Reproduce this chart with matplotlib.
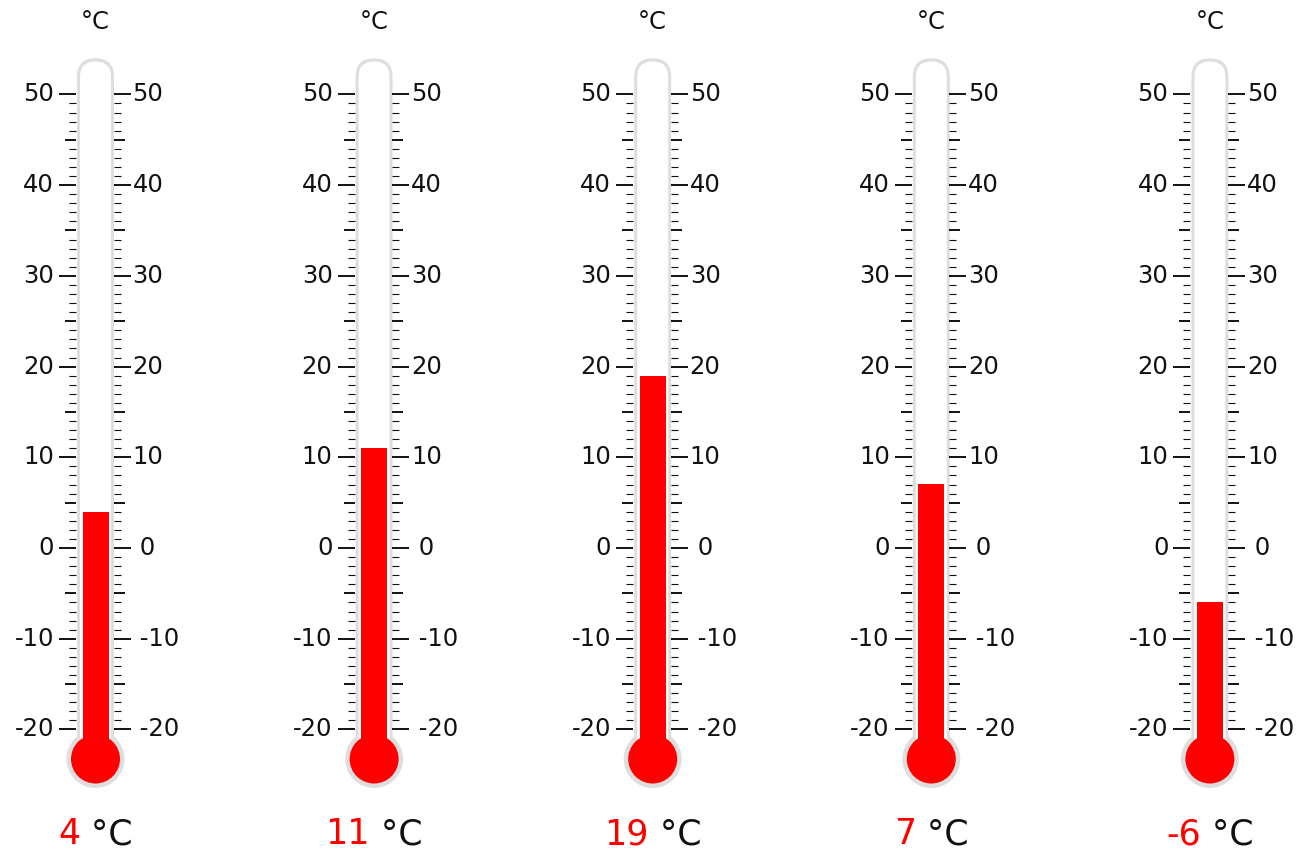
import matplotlib
matplotlib.use("Agg")
import matplotlib.pyplot as plt
from matplotlib.patches import FancyBboxPatch, Ellipse, Rectangle
from matplotlib.offsetbox import TextArea, HPacker, AnnotationBbox

# ---- data ----
values = [4, 11, 19, 7, -6]
unit = "°C"
scale_min, scale_max = -20, 50
left_labels = ["50", "40", "30", "20", "10", "0", "-10", "-20"]
right_labels = ["50", "40", "30", "20", "10", " 0", " -10", " -20"]
label_values = [50, 40, 30, 20, 10, 0, -10, -20]

# ---- layout (pixels) ----
W, H = 1311, 855
DPI = 100
px_per_deg = 635 / 70.0
zero_row = 548.0


def row2deg(r):
    return (zero_row - r) / px_per_deg


fig = plt.figure(figsize=(W / DPI, H / DPI), dpi=DPI)
fig.patch.set_facecolor("white")
ax = fig.add_axes([0, 0, 1, 1])
ax.set_xlim(0, W)
ax.set_ylim(row2deg(H), row2deg(0))
ax.axis("off")

first_center = 95.5
spacing = 278.6
gray = "#dedede"
red = "#ff0000"
txt = "#111111"

bulb_deg = row2deg(759)
tube_top_outer = row2deg(58.3)
tube_top_inner = row2deg(61.5)
m_aspect = 1.0 / px_per_deg

for i, v in enumerate(values):
    c = first_center + i * spacing
    # outer gray tube
    ro = 18.5
    ax.add_patch(FancyBboxPatch((c - ro, bulb_deg), 2 * ro, tube_top_outer - bulb_deg,
                                boxstyle=f"round,pad=0,rounding_size={ro}",
                                mutation_aspect=m_aspect, fc=gray, ec="none", zorder=1))
    # outer gray bulb
    rb = 29
    ax.add_patch(Ellipse((c, bulb_deg), 2 * rb, 2 * rb / px_per_deg, fc=gray, ec="none", zorder=1))
    # inner white tube
    ri = 15.5
    ax.add_patch(FancyBboxPatch((c - ri, bulb_deg), 2 * ri, tube_top_inner - bulb_deg,
                                boxstyle=f"round,pad=0,rounding_size={ri}",
                                mutation_aspect=m_aspect, fc="white", ec="none", zorder=2))
    # red bulb
    rr = 24.5
    ax.add_patch(Ellipse((c, bulb_deg), 2 * rr, 2 * rr / px_per_deg, fc=red, ec="none", zorder=3))
    # red column
    cw = 13
    ax.add_patch(Rectangle((c - cw, bulb_deg), 2 * cw, v - bulb_deg, fc=red, ec="none", zorder=3))

    # ticks
    for t in range(scale_min, scale_max + 1):
        if t % 10 == 0:
            L, lw = 17, 1.4
        elif t % 5 == 0:
            L, lw = 11, 1.4
        else:
            L, lw = 7, 0.8
        ax.hlines(t, c - 19.5 - L, c - 19.5, colors=txt, lw=lw, zorder=2)
        ax.hlines(t, c + 18.0, c + 18.0 + L, colors=txt, lw=lw, zorder=2)

    for lv, ll, rl in zip(label_values, left_labels, right_labels):
        ax.text(c - 41.5, lv, ll, ha="right", va="center", fontsize=17.5, color=txt)
        ax.text(c + 37.0, lv, rl, ha="left", va="center", fontsize=17.5, color=txt)

    # unit on top
    ax.text(c, row2deg(22), unit, ha="center", va="center", fontsize=17.5, color=txt)

    # value label
    t1 = TextArea(f"{v}", textprops=dict(color=red, fontsize=25))
    t2 = TextArea(f" {unit}", textprops=dict(color=txt, fontsize=25))
    pack = HPacker(children=[t1, t2], align="baseline", pad=0, sep=0)
    ab = AnnotationBbox(pack, (c, row2deg(834)), xycoords="data", frameon=False,
                        box_alignment=(0.5, 0.5), pad=0)
    ax.add_artist(ab)

fig.savefig("out.png", dpi=DPI, facecolor="white")
